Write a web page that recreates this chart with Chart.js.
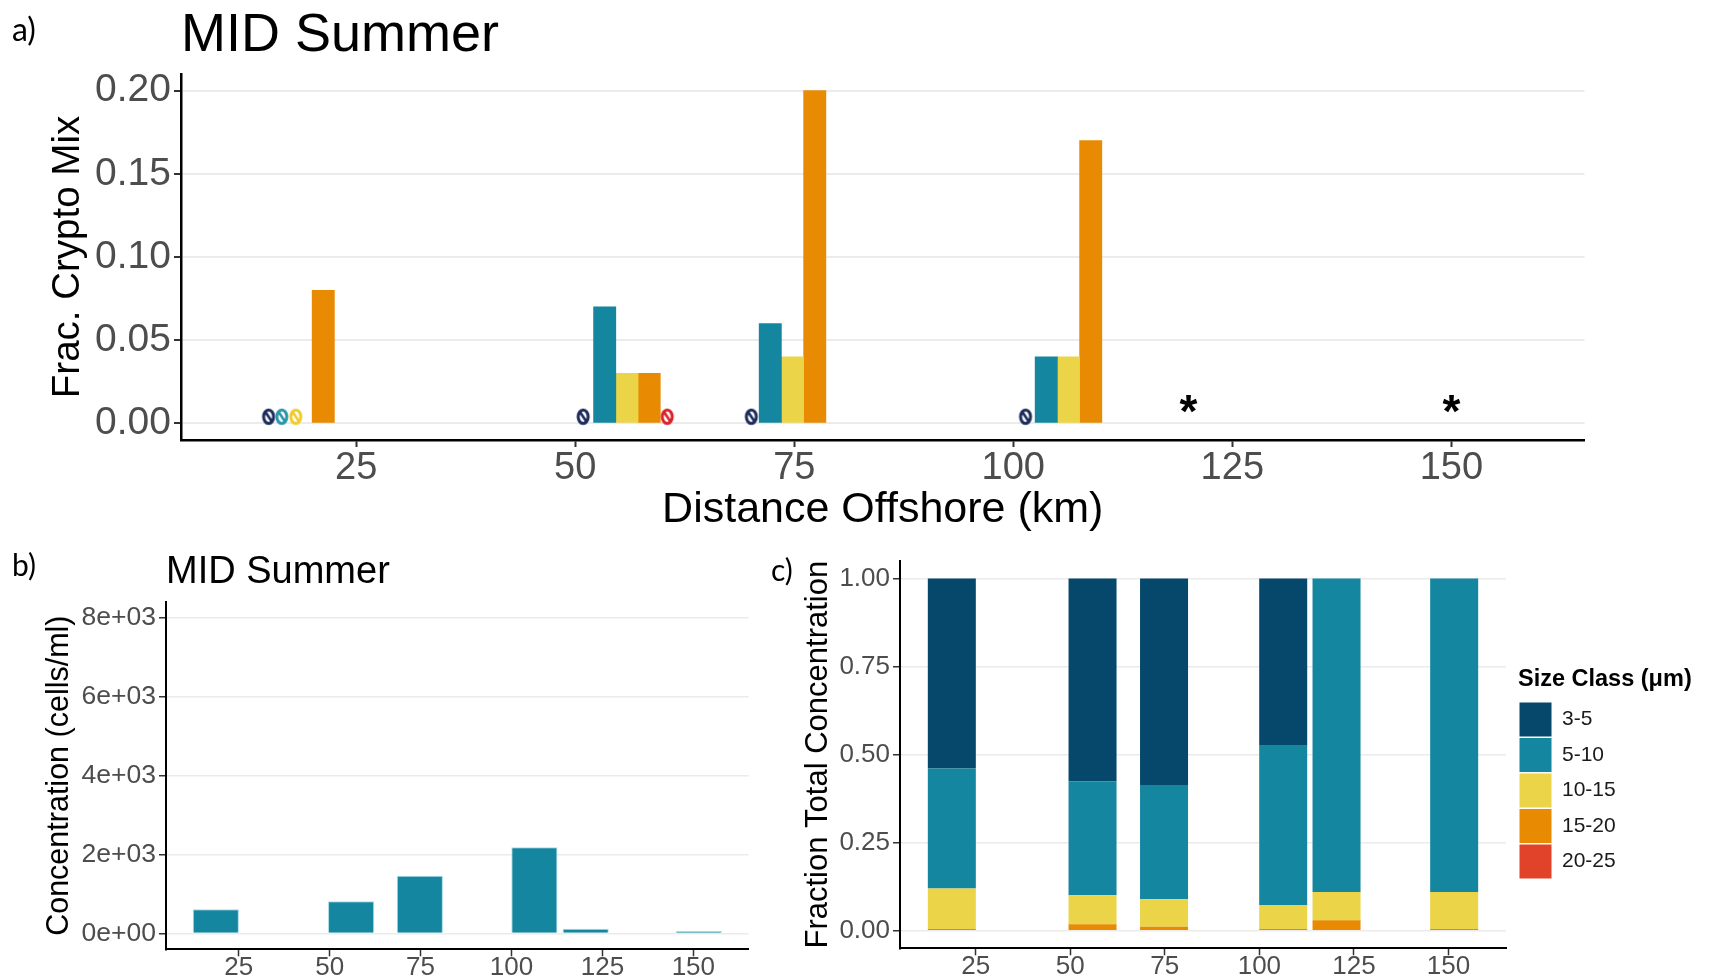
<!DOCTYPE html>
<html><head><meta charset="utf-8">
<script src="https://cdn.jsdelivr.net/npm/chart.js@4/dist/chart.umd.min.js"></script>
<style>
html,body{margin:0;padding:0;background:#fff;}
body{width:1711px;height:980px;position:relative;overflow:hidden;}
canvas{position:absolute;}
.tag{position:absolute;font-family:Lato,"Liberation Sans",sans-serif;color:#000;line-height:1;z-index:2;}
</style></head><body>
<canvas id="cA" width="1711" height="540" style="left:0;top:0"></canvas>
<canvas id="cB" width="780" height="435" style="left:0;top:545px"></canvas>
<canvas id="cC" width="951" height="435" style="left:760px;top:545px"></canvas>
<div class="tag" style="left:12px;top:13px;font-size:32px">a)</div>
<div class="tag" style="left:12px;top:549px;font-size:30px">b)</div>
<div class="tag" style="left:771px;top:554px;font-size:30px">c)</div>
<script>
// ---------- data ----------
const sizeClasses = ['3-5', '5-10', '10-15', '15-20', '20-25'];
const stationKm = [18.7, 55.9, 74.8, 106.3, 120.4, 151.5];
const xTickValues = [25, 50, 75, 100, 125, 150];

// a) fraction of crypto mix per size class (null = no bar)
const crypto_3_5   = [null, null, null, null, null, null];
const crypto_5_10  = [null, 0.07, 0.06, 0.04, null, null];
const crypto_10_15 = [null, 0.03, 0.04, 0.04, null, null];
const crypto_15_20 = [0.08, 0.03, 0.20, 0.17, null, null];
const crypto_20_25 = [null, null, null, null, null, null];
const nullMarkerKm = [15.0, 16.5, 18.1, 50.9, 60.5, 70.1, 101.4];
const nullMarkerClass = ['3-5', '5-10', '10-15', '3-5', '20-25', '3-5', '3-5'];
const noDataKm = [120, 150];
const cryptoTicks = [0, 0.05, 0.10, 0.15, 0.20];

// b) concentration (cells/ml)
const concentration = [615, 820, 1466, 2187, 120, 62];
const concTicks = [0, 2000, 4000, 6000, 8000];
const concTickLabels = ['0e+00', '2e+03', '4e+03', '6e+03', '8e+03'];

// c) fraction of total concentration per size class
const total_3_5   = [0.539, 0.576, 0.586, 0.475, 0, 0];
const total_5_10  = [0.341, 0.323, 0.325, 0.452, 0.890, 0.890];
const total_10_15 = [0.115, 0.083, 0.078, 0.068, 0.080, 0.105];
const total_15_20 = [0.005, 0.018, 0.011, 0.005, 0.030, 0.005];
const total_20_25 = [0, 0, 0, 0, 0, 0];
const totalTicks = [0, 0.25, 0.50, 0.75, 1.00];

// ---------- styles ----------
const FONT = '"Liberation Sans", Arial, Helvetica, sans-serif';
Chart.defaults.font.family = FONT;
const classColor = {'3-5': '#06486b', '5-10': '#14869f', '10-15': '#ebd448', '15-20': '#e98b02', '20-25': '#e0422a'};
const markerColor = {'3-5': '#1b2c5b', '5-10': '#2896aa', '10-15': '#efcc2e', '15-20': '#e98b02', '20-25': '#d8232b'};
const TICK_COLOR = '#4d4d4d';
const GRID = '#ebebeb';
const X_MIN = 5.0, X_MAX = 165.2;

function fixedTicks(values) { return s => { s.ticks = values.map(v => ({value: v})); }; }

// dodge width derived from station spacing (ggplot: 0.9 * resolution)
const sortedSt = [...stationKm].sort((a, b) => a - b);
let minGap = Infinity;
for (let i = 1; i < sortedSt.length; i++) minGap = Math.min(minGap, sortedSt[i] - sortedSt[i - 1]);
const groupWidth = 0.9 * minGap;
const slot = groupWidth / sizeClasses.length;

function makeNullMarker(color) {
  const c = document.createElement('canvas');
  c.width = 18; c.height = 22;
  const g = c.getContext('2d');
  g.strokeStyle = color; g.lineWidth = 3;
  g.beginPath(); g.ellipse(9, 11, 5, 6.7, 0, 0, Math.PI * 2); g.stroke();
  g.lineWidth = 2.6;
  g.beginPath(); g.moveTo(6, 6.5); g.lineTo(12, 15.5); g.stroke();
  return c;
}
const markerImgs = {};
sizeClasses.forEach(k => markerImgs[k] = makeNullMarker(markerColor[k]));
const NULL_Y = 0.004;
const NO_DATA_Y = 0.0135;

const noDataPlugin = {
  id: 'noData',
  afterDatasetsDraw(chart) {
    const {ctx, scales: {x, y}} = chart;
    const fs = 46;
    ctx.save();
    ctx.font = 'bold ' + fs + 'px ' + FONT;
    ctx.fillStyle = '#000'; ctx.textAlign = 'center'; ctx.textBaseline = 'alphabetic';
    noDataKm.forEach(km => {
      ctx.fillText('*', x.getPixelForValue(km), y.getPixelForValue(NO_DATA_Y) + 0.575 * fs);
    });
    ctx.restore();
  }
};

// ---------- panel a ----------
const cryptoSeries = [crypto_3_5, crypto_5_10, crypto_10_15, crypto_15_20, crypto_20_25];
const dsA = cryptoSeries.map((vals, k) => ({
  type: 'bar',
  label: sizeClasses[k],
  data: stationKm.map((s, i) => vals[i] == null ? null : {x: s + (k - 2) * slot, y: vals[i]}).filter(Boolean),
  backgroundColor: classColor[sizeClasses[k]],
  borderWidth: 0,
  grouped: false, barPercentage: 1, categoryPercentage: 1
}));
dsA.push({
  type: 'scatter', label: 'no data',
  data: nullMarkerKm.map(x => ({x: x, y: NULL_Y})),
  pointStyle: ctx => markerImgs[nullMarkerClass[ctx.dataIndex]],
  pointRadius: 6, order: -1
});

new Chart(document.getElementById('cA'), {
  type: 'bar',
  data: {datasets: dsA},
  plugins: [noDataPlugin],
  options: {
    responsive: false, animation: false, events: [],
    layout: {padding: {left: 0, right: 126.5, top: 0, bottom: 0}},
    plugins: {
      legend: {display: false}, tooltip: {enabled: false},
      title: {display: true, text: 'MID Summer', align: 'start', fullSize: false, color: '#000',
              font: {size: 54, weight: 'normal'}, padding: {top: 3.5, bottom: 5.7}}
    },
    scales: {
      x: {
        type: 'linear', min: X_MIN, max: X_MAX, offset: false,
        afterBuildTicks: fixedTicks(xTickValues),
        afterFit: s => { s.height = 100; },
        grid: {display: true, drawOnChartArea: false, offset: false, tickLength: 7, tickColor: '#333', tickWidth: 2},
        border: {display: true, color: '#000', width: 2.5},
        ticks: {color: TICK_COLOR, font: {size: 38, lineHeight: 1}, padding: 3, maxRotation: 0, autoSkip: false,
                callback: v => String(v)},
        title: {display: true, text: 'Distance Offshore (km)', color: '#000', font: {size: 43}, padding: {top: 0, bottom: 4.2}}
      },
      y: {
        min: -0.01, max: 0.21,
        afterBuildTicks: fixedTicks(cryptoTicks),
        afterFit: s => { s.width = 181; },
        grid: {color: GRID, lineWidth: 2, tickLength: 7, tickColor: '#333', tickWidth: 2},
        border: {display: true, color: '#000', width: 2.5},
        ticks: {color: TICK_COLOR, font: {size: 39, lineHeight: 1}, padding: 3, callback: v => v.toFixed(2)},
        title: {display: true, text: 'Frac. Crypto Mix', color: '#000', font: {size: 38.5}, padding: {top: 45, bottom: 0}}
      }
    }
  }
});

// ---------- panel b ----------
new Chart(document.getElementById('cB'), {
  type: 'bar',
  data: {datasets: [{
    label: 'Concentration',
    data: stationKm.map((s, i) => ({x: s, y: concentration[i]})),
    backgroundColor: classColor['5-10'], borderColor: '#a9dbe6', borderWidth: 1,
    grouped: false, barPercentage: 0.9, categoryPercentage: 1
  }]},
  options: {
    responsive: false, animation: false, events: [],
    layout: {padding: {left: 0, right: 31.4, top: 0, bottom: 0}},
    plugins: {
      legend: {display: false}, tooltip: {enabled: false},
      title: {display: true, text: 'MID Summer', align: 'start', fullSize: false, color: '#000',
              font: {size: 38, weight: 'normal'}, padding: {top: 5, bottom: 6.4}}
    },
    scales: {
      x: {
        type: 'linear', min: X_MIN, max: X_MAX, offset: false,
        afterBuildTicks: fixedTicks(xTickValues),
        afterFit: s => { s.height = 30.7; },
        grid: {display: true, drawOnChartArea: false, offset: false, tickLength: 7, tickColor: '#333', tickWidth: 1.5},
        border: {display: true, color: '#000', width: 2},
        ticks: {color: TICK_COLOR, font: {size: 26, lineHeight: 1}, padding: -1, maxRotation: 0, autoSkip: false,
                callback: v => String(v)}
      },
      y: {
        min: -400, max: 8400,
        afterBuildTicks: fixedTicks(concTicks),
        afterFit: s => { s.width = 166; },
        grid: {color: GRID, lineWidth: 1.5, tickLength: 7, tickColor: '#333', tickWidth: 1.5},
        border: {display: true, color: '#000', width: 2},
        ticks: {color: TICK_COLOR, font: {size: 26.5, lineHeight: 1}, padding: 3,
                callback: v => concTickLabels[concTicks.indexOf(v)]},
        title: {display: true, text: 'Concentration (cells/ml)', color: '#000', font: {size: 30.5}, padding: {top: 41.7, bottom: 0}}
      }
    }
  }
});

// ---------- panel c ----------
const totalSeries = {'3-5': total_3_5, '5-10': total_5_10, '10-15': total_10_15, '15-20': total_15_20, '20-25': total_20_25};
const stackOrder = ['20-25', '15-20', '10-15', '5-10', '3-5'];
const dsC = stackOrder.map(k => ({
  label: k,
  data: stationKm.map((s, i) => ({x: s, y: totalSeries[k][i] > 0 ? totalSeries[k][i] : null})),
  backgroundColor: classColor[k], borderWidth: 0,
  grouped: false, barPercentage: 0.9, categoryPercentage: 1
}));
const LEGEND_SHIFT = 12, LEGEND_CLIP_W = 200;
const legendShift = {id: 'legendShift', afterLayout(chart) {
  const lg = chart.legend;
  if (lg) { chart.$legendFitW = lg.width; lg.left += LEGEND_SHIFT; lg.right = lg.left + LEGEND_CLIP_W; }
}};
const C_W = 951, C_AREA_RIGHT = 746;
const chartC = new Chart(document.getElementById('cC'), {
  type: 'bar',
  data: {datasets: dsC},
  plugins: [legendShift],
  options: {
    responsive: false, animation: false, events: [],
    layout: {padding: {left: 0, right: 0, top: 11.5, bottom: 0}},
    plugins: {
      tooltip: {enabled: false},
      legend: {
        position: 'right', align: 'start', reverse: true,
        title: {display: true, text: 'Size Class (μm)', position: 'start', color: '#000',
                font: {size: 23.5, weight: 'bold'}, padding: {top: 111, bottom: 5.4}},
        labels: {boxWidth: 32, boxHeight: 34, padding: 1.5, color: '#1a1a1a', font: {size: 21}}
      }
    },
    scales: {
      x: {
        type: 'linear', min: X_MIN, max: X_MAX, offset: false, stacked: true,
        afterBuildTicks: fixedTicks(xTickValues),
        afterFit: s => { s.height = 31.7; },
        grid: {display: true, drawOnChartArea: false, offset: false, tickLength: 7, tickColor: '#333', tickWidth: 1.5},
        border: {display: true, color: '#000', width: 2},
        ticks: {color: TICK_COLOR, font: {size: 26, lineHeight: 1}, padding: -1, maxRotation: 0, autoSkip: false,
                callback: v => String(v)}
      },
      y: {
        min: -0.05, max: 1.05, stacked: true,
        afterBuildTicks: fixedTicks(totalTicks),
        afterFit: s => { s.width = 140; },
        grid: {color: GRID, lineWidth: 1.5, tickLength: 7, tickColor: '#333', tickWidth: 1.5},
        border: {display: true, color: '#000', width: 2},
        ticks: {color: TICK_COLOR, font: {size: 26, lineHeight: 1}, padding: 3, callback: v => v.toFixed(2)},
        title: {display: true, text: 'Fraction Total Concentration', color: '#000', font: {size: 31}, padding: {top: 39.5, bottom: 0}}
      }
    }
  }
});
chartC.options.layout.padding.right = Math.max(0, C_W - C_AREA_RIGHT - chartC.$legendFitW);
chartC.update();
</script>
</body></html>
